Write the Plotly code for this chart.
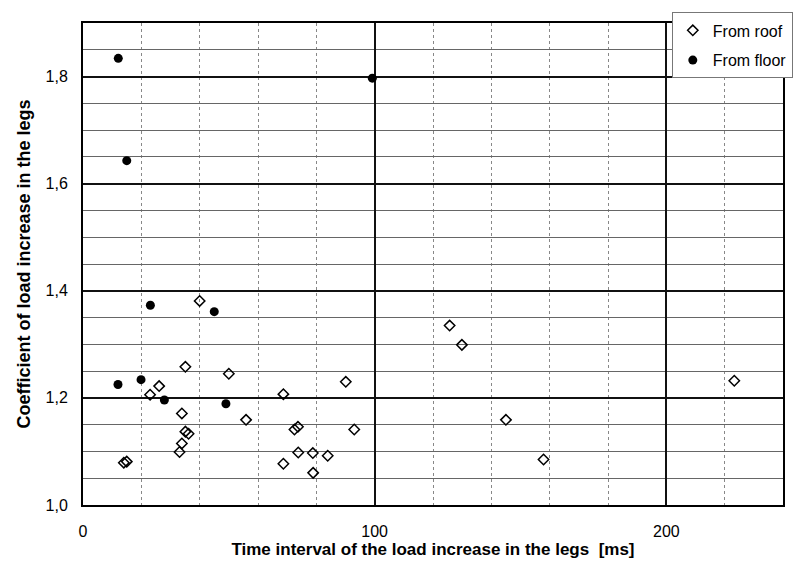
import plotly.graph_objects as go

roof_x = [40.0, 35.1, 50.0, 26.1, 23.0, 33.9, 55.9, 35.1, 36.2, 33.9, 33.1, 14.0, 15.0,
          68.7, 72.5, 73.7, 73.8, 68.7, 78.8, 78.9, 83.9, 90.1, 93.0,
          125.7, 129.9, 145.0, 157.9, 223.3]
roof_y = [1.381, 1.258, 1.245, 1.222, 1.206, 1.171, 1.159, 1.137, 1.133, 1.115, 1.099, 1.079, 1.081,
          1.207, 1.141, 1.146, 1.098, 1.077, 1.097, 1.060, 1.092, 1.230, 1.141,
          1.335, 1.299, 1.159, 1.085, 1.232]

floor_x = [12.1, 15.0, 99.2, 23.1, 45.0, 12.0, 19.9, 27.9, 49.0]
floor_y = [1.834, 1.643, 1.797, 1.373, 1.361, 1.225, 1.234, 1.196, 1.189]

fig = go.Figure()
fig.add_trace(go.Scatter(
    x=roof_x, y=roof_y, mode="markers", name="From roof", legendgroup="roof",
    marker=dict(symbol="diamond-open", size=8, color="black", line=dict(width=1.5, color="black")),
))
fig.add_trace(go.Scatter(
    x=floor_x, y=floor_y, mode="markers", name="From floor", legendgroup="floor",
    marker=dict(symbol="circle", size=9, color="black"),
))

font_family = "Liberation Sans, Arial, sans-serif"

fig.update_layout(
    width=795, height=568,
    margin=dict(l=83, r=12, t=23, b=63, autoexpand=False),
    paper_bgcolor="white", plot_bgcolor="white",
    separators=",.",
    font=dict(family=font_family, color="black", size=16),
    showlegend=True,
    legend=dict(
        x=1.014, y=1.022, xanchor="right", yanchor="top",
        bgcolor="white", bordercolor="#777777", borderwidth=1,
        font=dict(size=16, family=font_family, color="black"),
        itemwidth=30, traceorder="grouped", tracegroupgap=6,
    ),
    xaxis=dict(
        range=[0, 240], tickvals=[0, 100, 200], ticktext=["0", "100", "200"],
        tickfont=dict(size=16),
        showgrid=True, gridcolor="#111111", gridwidth=1.5,
        minor=dict(dtick=20, showgrid=True, gridcolor="#888888", griddash="dot", gridwidth=1),
        showline=True, linecolor="black", linewidth=2, mirror=True,
        zeroline=False, ticks="", ticklabelstandoff=11,
        title=dict(text="Time interval of the load increase in the legs  [ms]",
                   font=dict(size=17, family=font_family, weight="bold"), standoff=2),
    ),
    yaxis=dict(
        range=[1.0, 1.9], tickvals=[1.0, 1.2, 1.4, 1.6, 1.8],
        tickformat=".1f", tickfont=dict(size=16),
        showgrid=True, gridcolor="#111111", gridwidth=1.5,
        minor=dict(dtick=0.05, showgrid=True, gridcolor="#666666", gridwidth=1),
        showline=True, linecolor="black", linewidth=2, mirror=True,
        zeroline=False, ticks="", ticklabelstandoff=10,
        title=dict(text="Coefficient of load increase in the legs",
                   font=dict(size=18, family=font_family, weight="bold"), standoff=10),
    ),
)

fig.write_html("out.html")
